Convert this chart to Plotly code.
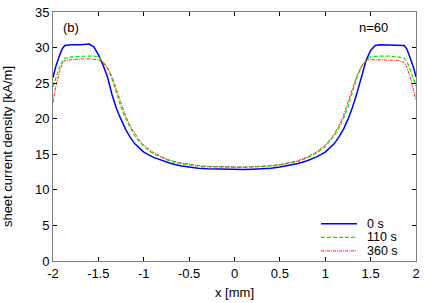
import plotly.graph_objects as go

# ---- data ----
x_mm = [-2.0, -1.97, -1.93, -1.9, -1.87, -1.8, -1.7, -1.6, -1.55, -1.5, -1.45, -1.4, -1.35, -1.3,
        -1.25, -1.2, -1.15, -1.1, -1.05, -1.0, -0.9, -0.8, -0.7, -0.6, -0.5, -0.4, -0.3, -0.2,
        -0.1, 0.0, 0.1, 0.2, 0.3, 0.4, 0.5, 0.6, 0.7, 0.8, 0.9, 1.0, 1.05, 1.1, 1.15, 1.2, 1.25,
        1.3, 1.35, 1.4, 1.45, 1.5, 1.55, 1.6, 1.7, 1.8, 1.87, 1.9, 1.93, 1.97, 2.0]

j_0s = [25.8, 27.3, 28.8, 29.8, 30.3, 30.4, 30.4, 30.5, 30.1, 29.0, 27.6, 25.9, 23.4, 21.4,
        19.9, 18.5, 17.4, 16.5, 15.9, 15.3, 14.6, 14.1, 13.7, 13.4, 13.2, 13.05, 12.95, 12.9,
        12.85, 12.85, 12.85, 12.9, 12.95, 13.05, 13.2, 13.4, 13.7, 14.1, 14.6, 15.3, 15.9, 16.5,
        17.4, 18.5, 19.9, 21.6, 23.6, 26.1, 28.2, 29.6, 30.3, 30.4, 30.4, 30.4, 30.3, 29.8, 28.8,
        27.3, 25.9]

j_110s = [24.5, 25.8, 27.2, 28.0, 28.5, 28.7, 28.8, 28.8, 28.8, 28.7, 28.0, 27.1, 25.6, 23.6,
          21.6, 20.0, 18.7, 17.6, 16.8, 16.1, 15.1, 14.5, 14.0, 13.7, 13.5, 13.35, 13.25, 13.2,
          13.15, 13.15, 13.15, 13.2, 13.25, 13.35, 13.5, 13.7, 14.0, 14.5, 15.1, 16.1, 16.8, 17.6,
          18.7, 20.0, 21.7, 23.7, 25.8, 27.3, 28.2, 28.7, 28.8, 28.8, 28.8, 28.7, 28.5, 28.0, 27.1,
          25.7, 24.6]

j_360s = [22.3, 24.5, 26.5, 27.6, 28.2, 28.3, 28.4, 28.4, 28.4, 28.3, 27.9, 27.2, 25.9, 24.0,
          22.1, 20.4, 19.0, 17.9, 17.0, 16.3, 15.3, 14.6, 14.1, 13.8, 13.55, 13.4, 13.3, 13.25,
          13.2, 13.2, 13.2, 13.25, 13.3, 13.4, 13.55, 13.8, 14.1, 14.6, 15.3, 16.3, 17.0, 17.9,
          19.0, 20.4, 22.2, 24.2, 26.1, 27.4, 28.2, 28.3, 28.3, 28.3, 28.3, 28.2, 27.9, 27.2, 26.1,
          24.3, 22.6]

series_names = ["0 s", "110 s", "360 s"]
x_ticks = [-2, -1.5, -1, -0.5, 0, 0.5, 1, 1.5, 2]
x_tick_text = ["-2", "-1.5", "-1", "-0.5", "0", "0.5", "1", "1.5", "2"]
y_ticks = [0, 5, 10, 15, 20, 25, 30, 35]

colors = ["#0000ff", "#00ee00", "#ff2020"]
dashes = ["solid", "4px,2px", "3px,1px,1px,1px"]
widths = [1.5, 1.2, 1.0]
series = [j_0s, j_110s, j_360s]

font = "Liberation Sans, Arial, sans-serif"
axis_gray = "#7f7f7f"

fig = go.Figure()
for name, ys, c, d, w in zip(series_names, series, colors, dashes, widths):
    fig.add_trace(go.Scatter(x=x_mm, y=ys, mode="lines", name=name,
                             line=dict(color=c, dash=d, width=w), showlegend=False))

# manual legend (bottom right)
leg_y = [5.25, 3.33, 1.42]
for name, c, d, w, yy in zip(series_names, colors, dashes, widths, leg_y):
    fig.add_shape(type="line", xref="x", yref="y", x0=0.953, x1=1.35, y0=yy, y1=yy,
                  line=dict(color=c, dash=d, width=w))
    fig.add_annotation(x=1.44, y=yy, xref="x", yref="y", text=name, showarrow=False,
                       xanchor="left", yanchor="middle", font=dict(size=12.5, color="black", family=font))

fig.add_annotation(x=-1.91, y=32.8, xref="x", yref="y", text="(b)", showarrow=False,
                   xanchor="left", yanchor="middle", font=dict(size=13, color="black", family=font))
fig.add_annotation(x=1.346, y=32.8, xref="x", yref="y", text="n=60", showarrow=False,
                   xanchor="left", yanchor="middle", font=dict(size=13, color="black", family=font))

fig.add_annotation(x=-0.125, y=0.46, xref="paper", yref="paper", text="sheet current density [kA/m]",
                   showarrow=False, textangle=-90, xanchor="center", yanchor="middle",
                   font=dict(size=13, color="black", family=font))

fig.update_xaxes(range=[-2, 2], tickvals=x_ticks, ticktext=x_tick_text, ticks="inside", ticklen=4,
                 tickcolor="black", showline=True, linecolor=axis_gray, linewidth=1, mirror="ticks",
                 showgrid=False, zeroline=False, ticklabeloverflow="allow",
                 title=dict(text="x [mm]", font=dict(size=13, family=font, color="black"), standoff=8),
                 tickfont=dict(size=13, family=font, color="black"))
fig.update_yaxes(range=[0, 35], tickvals=y_ticks, ticks="inside", ticklen=4,
                 tickcolor="black", showline=True, linecolor=axis_gray, linewidth=1, mirror="ticks",
                 showgrid=False, zeroline=False, ticklabeloverflow="allow",
                 tickfont=dict(size=13, family=font, color="black"))

fig.update_layout(width=425, height=303, margin=dict(l=53, r=5, t=7, b=42),
                  plot_bgcolor="white", paper_bgcolor="white", showlegend=False,
                  font=dict(family=font, size=13, color="black"))

fig.write_html("out.html", config={"displayModeBar": False},
               post_script="document.body.style.margin='0';document.body.style.overflow='hidden';")
